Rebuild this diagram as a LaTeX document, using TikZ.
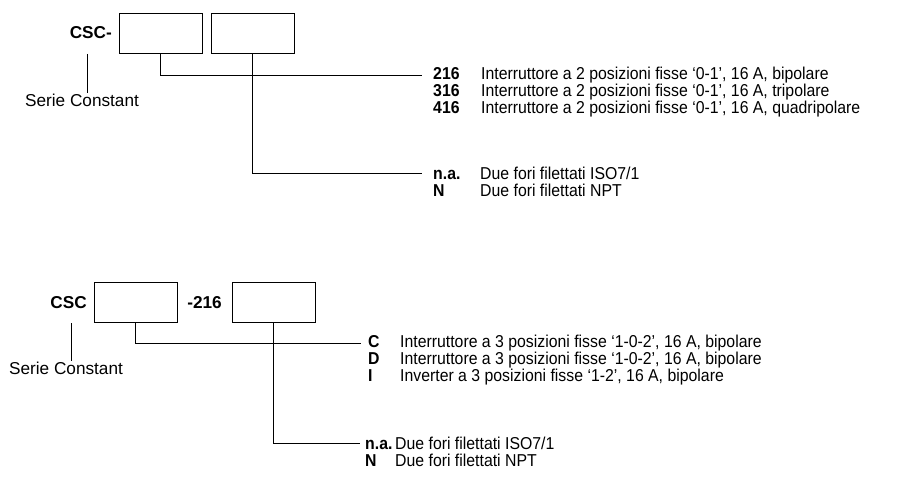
\documentclass[tikz,border=0pt]{standalone}
\usepackage{fontspec}
\setmainfont{Liberation Sans}[FakeStretch=0.92]
\newfontfamily\plainsans{Liberation Sans}
\usetikzlibrary{positioning}
\newcommand\codetag[2][48pt]{\makebox[#1][l]{\bfseries #2}}
\tikzset{
  slot/.style={draw, minimum width=83pt, minimum height=40pt, inner sep=0pt},
  row/.style={anchor=west, inner sep=0pt, font=\fontsize{17.2}{19}\selectfont},
  tag/.style={inner sep=0pt, font=\fontsize{17.2}{19}\selectfont\plainsans\bfseries},
  note/.style={inner sep=0pt, font=\fontsize{17.2}{19}\selectfont\plainsans},
  lead/.style={shorten >=11pt}
}
\begin{document}
\begin{tikzpicture}[x=1pt,y=-1pt]
  \useasboundingbox (0,0) rectangle (904,478);
  % upper code
  \node [tag, anchor=east] (csca) at (112,33) {CSC-};
  \node [slot] (boxa) at (160.5,33) {};
  \node [slot] (boxb) at (252.5,33) {};
  \node [note] (seriea) at (82,100) {Serie Constant};
  \coordinate (ticka) at (87,54);
  \draw (ticka) -- (ticka |- seriea.north);
  \node [row] (r216) at (433,75) {\codetag{216}Interruttore a 2 posizioni fisse ‘0-1’, 16 A, bipolare};
  \node [row] (r316) at (433,92) {\codetag{316}Interruttore a 2 posizioni fisse ‘0-1’, 16 A, tripolare};
  \node [row] (r416) at (433,109) {\codetag{416}Interruttore a 2 posizioni fisse ‘0-1’, 16 A, quadripolare};
  \node [row] (rna) at (433,173) {\codetag[47pt]{n.a.}Due fori filettati ISO7/1};
  \node [row] (rn) at (433,190) {\codetag[47pt]{N}Due fori filettati NPT};
  \draw [lead] (boxa.south) |- (r216.west);
  \draw [lead] (boxb.south) |- (rna.west);

  % lower code
  \node [tag, anchor=east] (cscb) at (87,303) {CSC};
  \node [slot] (boxc) at (135.5,302) {};
  \node [tag] (num) at (204.5,303) {-216};
  \node [slot] (boxd) at (273.5,302) {};
  \node [note] (serieb) at (66,368) {Serie Constant};
  \coordinate (tickb) at (71,323);
  \draw (tickb) -- (tickb |- serieb.north);
  \node [row] (rc) at (368,343) {\codetag[32pt]{C}Interruttore a 3 posizioni fisse ‘1-0-2’, 16 A, bipolare};
  \node [row] (rd) at (368,360) {\codetag[32pt]{D}Interruttore a 3 posizioni fisse ‘1-0-2’, 16 A, bipolare};
  \node [row] (ri) at (368,377) {\codetag[32pt]{I}Inverter a 3 posizioni fisse ‘1-2’, 16 A, bipolare};
  \node [row] (rnb) at (365,443) {\codetag[30pt]{n.a.}Due fori filettati ISO7/1};
  \node [row] (rnnb) at (365,460) {\codetag[30pt]{N}Due fori filettati NPT};
  \draw [lead, shorten >=7pt] (boxc.south) |- (rc.west);
  \draw [lead, shorten >=5pt] (boxd.south) |- (rnb.west);
\end{tikzpicture}
\end{document}
